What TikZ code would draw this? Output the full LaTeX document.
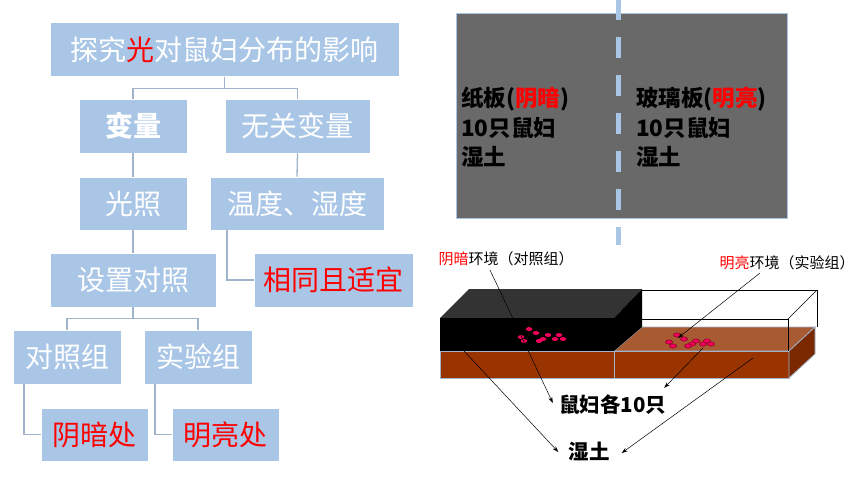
\documentclass[tikz,border=0pt]{standalone}
\usepackage{fontspec}
\setmainfont{Noto Sans CJK SC}
\usetikzlibrary{arrows.meta}
\definecolor{boxblue}{RGB}{169,198,230}
\definecolor{linkc}{RGB}{160,180,204}
\definecolor{edgec}{RGB}{160,180,204}
\definecolor{graybg}{RGB}{105,105,105}
\definecolor{soilfront}{RGB}{153,51,0}
\definecolor{soilside}{RGB}{122,40,0}
\definecolor{soiltop}{RGB}{168,90,50}
\definecolor{blacktop}{RGB}{51,51,51}
\definecolor{dotc}{RGB}{240,0,90}
\definecolor{dotedge}{RGB}{120,0,30}
\begin{document}
\begin{tikzpicture}[x=1pt,y=-1pt,
  tbox/.style={fill=boxblue, draw=white, line width=0.6pt, text=white,
    font=\fontsize{28}{32}\selectfont, minimum height=54pt, inner sep=0pt},
  link/.style={draw=linkc, line width=1.3pt},
  arr/.style={draw=black, line width=0.5pt, -{Stealth[length=6pt,width=4pt]}},
  plain/.style={draw=black, line width=0.5pt},
  boardtxt/.style={font=\fontsize{22.5}{29.5}\selectfont\bfseries, text=black, align=left, anchor=west, inner sep=0pt},
  smalllab/.style={font=\fontsize{15}{18}\selectfont, text=black, inner sep=0pt},
  biglab/.style={font=\fontsize{20.5}{24}\selectfont\bfseries, text=black, inner sep=0pt},
  ldot/.style={fill=dotc},
  rdot/.style={fill=dotc, draw=dotedge, line width=0.4pt}
]
\useasboundingbox (0,0) rectangle (860,484);

% ---------------- left tree ----------------
\node[tbox, minimum width=349pt] (title) at (224.5,49.5) {探究\textcolor{red}{光}对鼠妇分布的影响};
\node[tbox, minimum width=108pt, font=\fontsize{28}{32}\selectfont\bfseries] (bl) at (133,126) {变量};
\node[tbox, minimum width=145pt] (wg) at (297.5,126) {无关变量};
\node[tbox, minimum width=108pt, minimum height=53pt] (gz) at (133,203.5) {光照};
\node[tbox, minimum width=174pt, minimum height=53pt] (wd) at (297,203.5) {温度、湿度};
\node[tbox, minimum width=166pt] (sz) at (133,280) {设置对照};
\node[tbox, minimum width=159pt, text=red] (xt) at (333.5,280) {相同且适宜};
\node[tbox, minimum width=108pt] (dz) at (67,357) {对照组};
\node[tbox, minimum width=108pt] (sy) at (198,357) {实验组};
\node[tbox, minimum width=107pt, minimum height=53pt, text=red] (ya) at (94.5,434.5) {阴暗处};
\node[tbox, minimum width=107pt, minimum height=53pt, text=red] (ml) at (225.5,434.5) {明亮处};

\draw[link] (title.south) -- ++(0,12) -| (bl.north);
\draw[link] (title.south) -- ++(0,12) -| (wg.north);
\draw[link] (bl.south) -- (gz.north);
\draw[link] (wg.south) -- (wd.north);
\draw[link] (gz.south) -- (sz.north);
\draw[link] ([xshift=-70pt]wd.south) |- (xt.west);
\draw[link] (sz.south) -- ++(0,11) -| (dz.north);
\draw[link] (sz.south) -- ++(0,11) -| (sy.north);
\draw[link] ([xshift=-43pt]dz.south) |- (ya.west);
\draw[link] ([xshift=-43pt]sy.south) |- (ml.west);

% ---------------- right top board ----------------
\node[draw=boxblue, line width=0.8pt, fill=graybg, minimum width=331pt, minimum height=205pt, inner sep=0pt] (board) at (621.5,115.5) {};
\draw[draw=boxblue, line width=5pt, dash pattern=on 21pt off 17pt, dash phase=1pt] (618,0) -- (618,245);
\node[boardtxt] (lt) at (461,127.5) {纸板(\textcolor{red}{阴暗})\\10只鼠妇\\湿土};
\node[boardtxt] (rt) at (636,127.5) {玻璃板(\textcolor{red}{明亮})\\10只鼠妇\\湿土};

% ---------------- right bottom 3D box ----------------
% glass top and right faces
\fill[white] (642,290) -- (817,290) -- (817,327) -- (788,351) -- (642,351) -- cycle;
% soil top (right)
\filldraw[fill=soiltop, draw=edgec, line width=0.8pt] (614,351) -- (642,327) -- (815,327) -- (789,351) -- cycle;
% soil front
\filldraw[fill=soilfront, draw=edgec, line width=0.8pt] (440,351) rectangle (614,378);
\filldraw[fill=soilfront, draw=edgec, line width=0.8pt] (614,351) rectangle (789,378);
% soil right face
\filldraw[fill=soilside, draw=edgec, line width=0.8pt] (789,351) -- (815,327) -- (815,354) -- (789,378) -- cycle;
% glass outline
\draw[plain] (642,290) -- (817,290) -- (817,327);
\draw[plain] (642,319) -- (788,319) -- (788,351);
\draw[plain] (788,319) -- (817,290);
% black box
\fill[blacktop] (440,318) -- (469,289) -- (642,289) -- (614,318) -- cycle;
\fill[black] (440,318) rectangle (614,351);
\fill[black] (614,318) -- (642,289) -- (642,327) -- (614,351) -- cycle;

% woodlice dots
\foreach \x/\y in {529/329,536/333,548/335,559/335,521/337,543/339,555/339,563/339,524/341,539/341}
  \fill[ldot] (\x,\y) ellipse [x radius=3.3pt, y radius=2pt];
\foreach \x/\y in {677/335,684/339,669/342,673/346,696/341,707/341,692/344,688/346,703/344,711/344}
  \filldraw[rdot] (\x,\y) ellipse [x radius=3.6pt, y radius=2.2pt];

% labels
\node[smalllab] (lab1) at (506,259) {\textcolor{red}{阴暗}环境（对照组）};
\node[smalllab] (lab2) at (787,263) {\textcolor{red}{明亮}环境（实验组）};
\node[biglab] (shufu) at (612.5,405) {鼠妇各10只};
\node[biglab] (shitu) at (589,451) {湿土};

\coordinate (a1s) at (490,270);
\coordinate (a1e) at ([xshift=-6pt,yshift=2pt]shufu.west);
\coordinate (a2s) at (760,273);
\coordinate (a2e) at (678,338);
\coordinate (a3s) at (703,348);
\coordinate (a3e) at ([xshift=-2pt,yshift=7pt]shufu.north east);
\coordinate (a4s) at (464,351);
\coordinate (a4e) at ([xshift=-10pt,yshift=-1pt]shitu.west);
\coordinate (a5s) at (753,358);
\coordinate (a5e) at ([xshift=12pt,yshift=-2pt]shitu.east);

\draw[arr] (a1s) -- (a1e);
\draw[arr] (a2s) -- (a2e);
\draw[arr] (a3s) -- (a3e);
\draw[arr] (a4s) -- (a4e);
\draw[arr] (a5s) -- (a5e);
\end{tikzpicture}
\end{document}
